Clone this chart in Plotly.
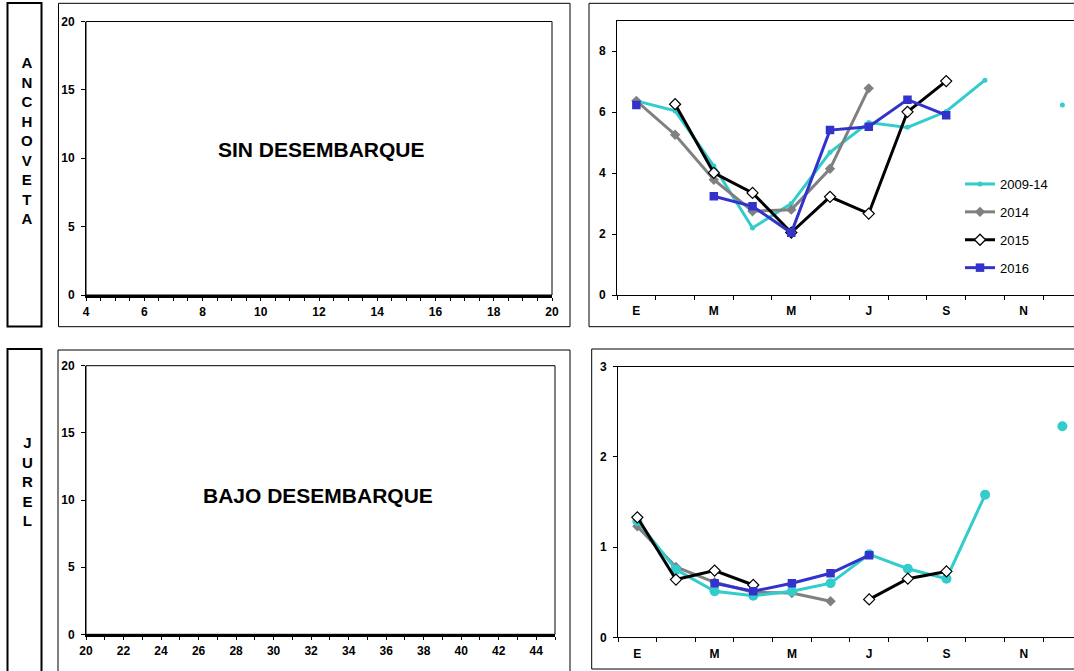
import plotly.graph_objects as go

# ---------------- data ----------------
months = list(range(12))  # Jan..Dec
month_labels = ["E", "M", "M", "J", "S", "N"]
month_label_pos = [0, 2, 4, 6, 8, 10]

series_names = ["2009-14", "2014", "2015", "2016"]

anch_2009_14 = [6.37, 6.04, 4.23, 2.20, 3.00, 4.68, 5.66, 5.50, 6.02, 7.05, None, 6.23]
anch_2014 = [6.37, 5.26, 3.78, 2.75, 2.80, 4.14, 6.78, None, None, None, None, None]
anch_2015 = [None, 6.26, 4.01, 3.35, 2.05, 3.22, 2.67, 6.01, 7.02, None, None, None]
anch_2016 = [6.23, None, 3.24, 2.91, 2.04, 5.41, 5.52, 6.41, 5.90, None, None, None]

jurel_2009_14 = [1.29, 0.75, 0.51, 0.46, 0.51, 0.60, 0.92, 0.76, 0.65, 1.58, None, 2.34]
jurel_2014 = [1.23, 0.78, 0.61, 0.50, 0.49, 0.40, None, None, None, None, None, None]
jurel_2015 = [1.33, 0.64, 0.74, 0.58, None, None, 0.42, 0.65, 0.73, None, None, None]
jurel_2016 = [None, None, 0.60, 0.51, 0.60, 0.71, 0.91, None, None, None, None, None]

left_top_x_range = [4, 20]
left_bot_x_range = [20, 45]
left_y_range = [0, 20]

species = ["ANCHOVETA", "JUREL"]
panel_notes = ["SIN DESEMBARQUE", "BAJO DESEMBARQUE"]

# ---------------- style ----------------
W, H = 1074, 671
FONT = "Liberation Sans, Arial, sans-serif"
CYAN = "#33CCCC"
GRAY = "#808080"
BLACK = "#000000"
BLUE = "#3333CC"

def px(v):
    return v / W

def py(v):
    return 1 - v / H

fig = go.Figure()

# empty traces so the left panels exist
fig.add_trace(go.Scatter(x=[], y=[], xaxis="x", yaxis="y", showlegend=False))
fig.add_trace(go.Scatter(x=[], y=[], xaxis="x3", yaxis="y3", showlegend=False))

styles = {
    "2009-14": dict(color=CYAN, marker=dict(symbol="circle", size=5, color=CYAN)),
    "2014": dict(color=GRAY, marker=dict(symbol="diamond", size=8, color=GRAY)),
    "2015": dict(color=BLACK, marker=dict(symbol="diamond", size=8.5, color="white",
                                          line=dict(color=BLACK, width=1.2))),
    "2016": dict(color=BLUE, marker=dict(symbol="square", size=8.5, color=BLUE)),
}
anch = {"2009-14": anch_2009_14, "2014": anch_2014, "2015": anch_2015, "2016": anch_2016}
jur = {"2009-14": jurel_2009_14, "2014": jurel_2014, "2015": jurel_2015, "2016": jurel_2016}

# top-right: ANCHOVETA
for name in series_names:
    st = styles[name]
    fig.add_trace(go.Scatter(
        x=months, y=anch[name], name=name, mode="lines+markers",
        line=dict(color=st["color"], width=3), marker=st["marker"],
        connectgaps=False, xaxis="x2", yaxis="y2", legendgroup=name,
    ))

# bottom-right: JUREL (draw order: gray, cyan, black, blue)
for name in ["2014", "2009-14", "2015", "2016"]:
    st = styles[name]
    mk = dict(st["marker"])
    if name == "2009-14":
        mk = dict(symbol="circle", size=10, color=CYAN)
    fig.add_trace(go.Scatter(
        x=months, y=jur[name], name=name, mode="lines+markers",
        line=dict(color=st["color"], width=3), marker=mk,
        connectgaps=False, xaxis="x4", yaxis="y4", showlegend=False,
    ))

tickfont = dict(family=FONT, size=12, color="black", weight="bold")

def left_x(anchor, dom, rng, dtick, minor_dtick):
    return dict(domain=dom, range=rng, tick0=rng[0], dtick=dtick, showline=True,
                linecolor="black", linewidth=2.5, ticks="outside", ticklen=3,
                tickcolor="black", tickfont=tickfont, showgrid=False, zeroline=False,
                minor=dict(ticks="outside", ticklen=3, tickcolor="black",
                           tick0=rng[0], dtick=minor_dtick, showgrid=False),
                anchor=anchor, automargin=False, ticklabelstandoff=1, fixedrange=True)

def left_y(anchor, dom):
    return dict(domain=dom, range=left_y_range, dtick=5, showline=True, linecolor="black",
                linewidth=1, ticks="outside", ticklen=4, tickcolor="black",
                tickfont=tickfont, showgrid=False, zeroline=False, anchor=anchor,
                automargin=False, ticklabelstandoff=4, fixedrange=True)

def right_x(anchor, dom):
    return dict(domain=dom, range=[-0.5, 11.3], tickmode="array", tickvals=month_label_pos,
                ticktext=month_labels, ticks="", showline=True, mirror=True,
                linecolor="black", linewidth=1, tickfont=tickfont, showgrid=False,
                zeroline=False, anchor=anchor, ticklabelstandoff=5, automargin=False,
                minor=dict(ticks="outside", ticklen=4, tickcolor="black",
                           tick0=-0.5, dtick=1, showgrid=False),
                fixedrange=True)

def right_y(anchor, dom, rng, dtick):
    return dict(domain=dom, range=rng, dtick=dtick, showline=True, linecolor="black",
                linewidth=1, ticks="outside", ticklen=4, tickcolor="black",
                tickfont=tickfont, showgrid=False, zeroline=False, anchor=anchor,
                automargin=False, ticklabelstandoff=4, fixedrange=True)

xa1 = left_x("y", [px(86), px(552)], left_top_x_range, 2, 0.5)
ya1 = left_y("x", [py(295), py(21.5)])
xa3 = left_x("y3", [px(86), px(555)], left_bot_x_range, 2, 1)
ya3 = left_y("x3", [py(634.3), py(365.7)])
xa2 = right_x("y2", [px(617), 1.0])
ya2 = right_y("x2", [py(295), py(20.7)], [0, 9], 2)
xa4 = right_x("y4", [px(618), 1.0])
ya4 = right_y("x4", [py(637.3), py(366.7)], [0, 3], 1)

shapes = []
# outer panel boxes
for (x0, y0, x1, y1) in [(58.5, 3.3, 570, 326.7), (589, 3.3, 1090, 326.7),
                         (58, 350, 570, 690), (591.7, 349, 1090, 669)]:
    shapes.append(dict(type="rect", xref="paper", yref="paper",
                       x0=px(x0), x1=px(x1), y0=py(y1), y1=py(y0),
                       line=dict(color="black", width=1), fillcolor="rgba(0,0,0,0)"))
# species label boxes
for (x0, y0, x1, y1) in [(7.5, 3, 41.5, 326.5), (7.5, 349, 41.5, 690)]:
    shapes.append(dict(type="rect", xref="paper", yref="paper",
                       x0=px(x0), x1=px(x1), y0=py(y1), y1=py(y0),
                       line=dict(color="black", width=2), fillcolor="rgba(0,0,0,0)"))
# thin frame around left plot areas
for xr, yr in [("x", "y"), ("x3", "y3")]:
    shapes.append(dict(type="rect", xref=xr + " domain", yref=yr + " domain",
                       x0=0, x1=1, y0=0, y1=1, line=dict(color="black", width=1),
                       fillcolor="rgba(0,0,0,0)", layer="above"))

annotations = []
for sp, yc in zip(species, [141, 481]):
    annotations.append(dict(text="<br>".join(list(sp)), x=px(27), y=py(yc),
                            xref="paper", yref="paper", showarrow=False,
                            xanchor="center", yanchor="middle", align="center",
                            font=dict(family=FONT, size=15, color="black", weight="bold")))
for note, xc, yc in zip(panel_notes, [321, 318], [149, 495]):
    annotations.append(dict(text=note, x=px(xc), y=py(yc), xref="paper", yref="paper",
                            showarrow=False, xanchor="center", yanchor="middle",
                            font=dict(family=FONT, size=21, color="black", weight="bold")))

fig.update_layout(
    template="none",
    width=W, height=H, margin=dict(l=0, r=0, t=0, b=0, pad=0, autoexpand=False),
    paper_bgcolor="white", plot_bgcolor="white",
    xaxis=xa1, yaxis=ya1, xaxis2=xa2, yaxis2=ya2, xaxis3=xa3, yaxis3=ya3,
    xaxis4=xa4, yaxis4=ya4,
    shapes=shapes, annotations=annotations,
    showlegend=True,
    legend=dict(x=px(960), y=py(169), xanchor="left", yanchor="top",
                bgcolor="rgba(0,0,0,0)", borderwidth=0, traceorder="grouped",
                tracegroupgap=8, itemwidth=30,
                font=dict(family=FONT, size=13, color="black")),
    font=dict(family=FONT, color="black"),
)

fig.write_html(
    "out.html",
    config={"displayModeBar": False},
    post_script="document.body.style.margin='0';document.body.style.overflow='hidden';",
)
